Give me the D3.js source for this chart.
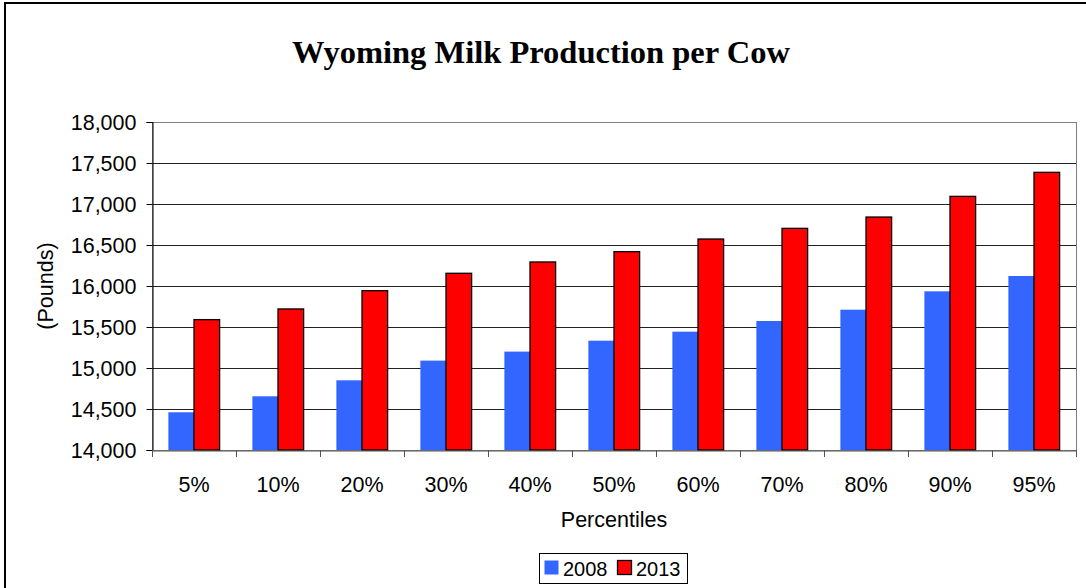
<!DOCTYPE html>
<html><head><meta charset="utf-8">
<script src="https://cdn.jsdelivr.net/npm/d3@7"></script>
<style>
html,body{margin:0;padding:0;background:#fff;}
svg{display:block;}
text{font-family:"Liberation Sans",Arial,sans-serif;fill:#000;}
</style></head>
<body>
<svg id="chart" width="1086" height="588"></svg>
<script>
const categories = ["5%","10%","20%","30%","40%","50%","60%","70%","80%","90%","95%"];
const seriesNames = ["2008","2013"];
const values2008 = [14460,14655,14850,15090,15200,15333,15443,15573,15711,15935,16122];
const values2013 = [15590,15720,15943,16155,16293,16419,16573,16703,16841,17093,17386];
const yTicks = [14000,14500,15000,15500,16000,16500,17000,17500,18000];
const colors = ["#3366FF","#FF0000"];

const svg = d3.select("#chart");
const W = 1086, H = 588;
svg.append("rect").attr("x",5).attr("y",3).attr("width",W+10).attr("height",H+10)
  .attr("fill","#fff").attr("stroke","#000").attr("stroke-width",2);

const L = 152, R = 1076, T = 122, B = 450;
const x = d3.scaleBand().domain(categories).range([L,R]).paddingInner(0.39).paddingOuter(0.195);
const xs = d3.scaleBand().domain(seriesNames).range([0,x.bandwidth()]);
const y = d3.scaleLinear().domain([14000,18000]).range([B,T]);
const axisFont = "21.5px";

// title
svg.append("text").attr("x",541).attr("y",62.5).attr("text-anchor","middle")
  .style("font-family","'Liberation Serif','Times New Roman',serif")
  .style("font-weight","bold").style("font-size","32.5px").text("Wyoming Milk Production per Cow");

// gridlines
svg.append("g").selectAll("line").data(yTicks.filter(d=>d>14000 && d<18000)).join("line")
  .attr("x1",L).attr("x2",R).attr("y1",d=>Math.round(y(d))+0.5).attr("y2",d=>Math.round(y(d))+0.5)
  .attr("stroke","#222").attr("stroke-width",1);
// plot border
svg.append("rect").attr("x",L+0.5).attr("y",T+0.5).attr("width",R-L).attr("height",B-T)
  .attr("fill","none").attr("stroke","#808080").attr("stroke-width",1);

// bars
const data = categories.map((c,i)=>({c, v:[values2008[i],values2013[i]]}));
const groups = svg.append("g").selectAll("g").data(data).join("g")
  .attr("transform",d=>`translate(${x(d.c)},0)`);
groups.selectAll("rect").data(d=>d.v.map((v,j)=>({s:seriesNames[j],v,j}))).join("rect")
  .attr("x",d=>xs(d.s)).attr("width",xs.bandwidth())
  .attr("y",d=>y(d.v)).attr("height",d=>B-y(d.v))
  .attr("fill",d=>colors[d.j])
  .attr("stroke",d=>d.j===1?"#000":"none").attr("stroke-width",1.3);

// y axis
const yAxis = d3.axisLeft(y).tickValues(yTicks).tickFormat(d3.format(",")).tickSize(6).tickPadding(10);
const ga = svg.append("g").attr("transform",`translate(${L+0.5},0)`).call(yAxis);
ga.select(".domain").attr("stroke","#000");
ga.selectAll(".tick line").attr("stroke","#000");
ga.selectAll("text").style("font-size",axisFont).style("font-family","'Liberation Sans',Arial,sans-serif").attr("dy","0.36em");

// x axis
const xAxis = d3.axisBottom(x).tickSize(0).tickPadding(26);
const gx = svg.append("g").attr("transform",`translate(0,${B+0.5})`).call(xAxis);
gx.select(".domain").attr("stroke","#555");
gx.selectAll("text").style("font-size",axisFont).style("font-family","'Liberation Sans',Arial,sans-serif");
// x ticks at category boundaries
const bounds = d3.range(categories.length+1).map(i=>L + i*(R-L)/categories.length);
svg.append("g").selectAll("line").data(bounds).join("line")
  .attr("x1",d=>Math.round(d)+0.5).attr("x2",d=>Math.round(d)+0.5).attr("y1",B).attr("y2",B+7)
  .attr("stroke","#555");

// axis titles
svg.append("text").attr("x",(L+R)/2).attr("y",527).attr("text-anchor","middle")
  .style("font-size",axisFont).text("Percentiles");
svg.append("text").attr("transform",`translate(53,${(T+B)/2}) rotate(-90)`).attr("text-anchor","middle")
  .style("font-size",axisFont).text("(Pounds)");

// legend
const lg = svg.append("g");
lg.append("rect").attr("x",539.5).attr("y",553.5).attr("width",148).attr("height",30)
  .attr("fill","#fff").attr("stroke","#000").attr("stroke-width",1);
const items = [{n:"2008",c:colors[0],sx:544,tx:563},{n:"2013",c:colors[1],sx:617,tx:636}];
items.forEach((it,i)=>{
  lg.append("rect").attr("x",it.sx+0.5).attr("y",560.5).attr("width",14).attr("height",14)
    .attr("fill",it.c).attr("stroke",i===1?"#000":"none").attr("stroke-width",1.3);
  lg.append("text").attr("x",it.tx).attr("y",576).style("font-size","20px").text(it.n);
});
</script>
</body></html>
